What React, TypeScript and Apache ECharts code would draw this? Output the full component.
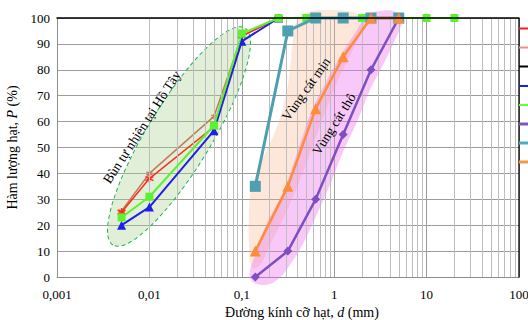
import React, { useEffect, useRef } from "react";
import * as echarts from "echarts";

// ---- data ----
const xTickValues = [0.001, 0.01, 0.1, 1, 10, 100];
const xTickLabels = ["0,001", "0,01", "0,1", "1", "10", "100"];

const mudD = [0.005, 0.01, 0.05, 0.1, 0.25];
const redP = [25, 38, 58, 93, 100];
const brownP = [25.5, 40, 62, 93, 100];
const blueP = [20, 27, 56.5, 91, 100];

const greenD = [0.005, 0.01, 0.05, 0.1, 0.25, 0.5, 2, 10, 20];
const greenP = [23, 31, 58.5, 94, 100, 100, 100, 100, 100];

const sandD = [0.14, 0.315, 0.63, 1.25, 2.5, 5];
const tealP = [35, 95, 100, 100, 100, 100];
const orangeP = [10, 35, 65, 85, 100, 100];
const purpleP = [0, 10, 30, 55, 80, 100];

const FONT = "'Liberation Serif', 'Times New Roman', serif";

// decorative zones (pixel outlines)
const peachOutline = [
  [252, 268], [249, 245], [249, 215], [251, 190], [262, 160], [275, 132], [285, 100], [290, 70], [293, 40], [297, 20],
  [308, 12], [330, 10], [352, 12], [364, 18],
  [360, 35], [345, 65], [330, 100], [315, 140], [300, 180], [285, 215], [270, 245], [260, 265],
];
const pinkOutline = [
  [250, 278], [255, 255], [266, 225], [284, 190], [298, 150], [312, 110], [327, 80], [341, 55], [357, 30], [366, 16],
  [380, 11], [396, 12],
  [402, 20], [396, 38], [383, 65], [370, 90], [357, 122], [343, 152], [330, 185], [318, 212], [305, 240], [292, 262], [277, 280], [262, 285],
];

const legendStubs = [
  { y: 28.5, color: "#ff1a1a", w: 2 },
  { y: 47.5, color: "#e8908c", w: 2 },
  { y: 66.5, color: "#000000", w: 2 },
  { y: 86, color: "#1a1aff", w: 2 },
  { y: 105, color: "#66ff33", w: 2 },
  { y: 124, color: "#7f55b5", w: 3 },
  { y: 143, color: "#4bacc6", w: 3 },
  { y: 162, color: "#f79646", w: 3 },
];

const minorValues: number[] = [];
[0.001, 0.01, 0.1, 1, 10].forEach((dec) => {
  for (let k = 2; k <= 9; k++) minorValues.push(k * dec);
});

const asterisk = "path://M5,0L5,10M0.67,2.5L9.33,7.5M0.67,7.5L9.33,2.5";

function lineSeries(name: string, d: number[], p: number[], color: string, width: number, symbol: string, size: number, z: number, extra: any = {}) {
  return {
    name,
    type: "line",
    data: d.map((x, i) => [x, p[i]]),
    symbol,
    symbolSize: size,
    lineStyle: { color, width },
    itemStyle: { color, ...(extra.itemStyle || {}) },
    z,
    clip: false,
  };
}

export default function App() {
  const ref = useRef<HTMLDivElement>(null);
  useEffect(() => {
    if (!ref.current) return;
    const chart = echarts.init(ref.current, undefined, { renderer: "svg" });
    const deg = Math.PI / 180;
    const option: any = {
      animation: false,
      backgroundColor: "#ffffff",
      grid: { left: 57, right: 9, top: 18, bottom: 43, containLabel: false, outerBoundsMode: "none" },
      xAxis: {
        type: "log",
        logBase: 10,
        min: 0.001,
        max: 100,
        axisLine: { show: true, onZero: false, lineStyle: { color: "#8c8c8c", width: 1 } },
        axisTick: { show: false },
        axisLabel: {
          color: "#000",
          fontFamily: FONT,
          fontSize: 13,
          margin: 11,
          formatter: (v: number) => {
            let best = 0;
            xTickValues.forEach((t, i) => {
              if (Math.abs(Math.log10(t) - Math.log10(v)) < Math.abs(Math.log10(xTickValues[best]) - Math.log10(v))) best = i;
            });
            return xTickLabels[best];
          },
        },
        splitLine: { show: true, lineStyle: { color: "#9c9c9c", width: 1 } },
        name: "Đường kính cỡ hạt, {i|d} (mm)",
        nameLocation: "middle",
        nameGap: 25,
        nameTextStyle: {
          color: "#000",
          fontFamily: FONT,
          fontSize: 14,
          padding: [0, 0, 0, 28],
          rich: { i: { fontStyle: "italic", fontFamily: FONT, fontSize: 14, color: "#000" } },
        },
      },
      yAxis: {
        type: "value",
        min: 0,
        max: 100,
        interval: 10,
        axisLine: { show: true, lineStyle: { color: "#8c8c8c", width: 1 } },
        axisTick: { show: false },
        axisLabel: { color: "#000", fontFamily: FONT, fontSize: 13, margin: 7 },
        splitLine: { show: true, lineStyle: { color: "#9c9c9c", width: 1 } },
        name: "Hàm lượng hạt, {i|P} (%)",
        nameLocation: "middle",
        nameGap: 35,
        nameTextStyle: {
          color: "#000",
          fontFamily: FONT,
          fontSize: 14,
          rich: { i: { fontStyle: "italic", fontFamily: FONT, fontSize: 14, color: "#000" } },
        },
      },
      series: [
        {
          name: "minor",
          type: "line",
          data: [[0.001, 0]],
          showSymbol: false,
          lineStyle: { width: 0, opacity: 0 },
          silent: true,
          z: 0,
          markLine: {
            silent: true,
            symbol: "none",
            label: { show: false },
            lineStyle: { color: "#bdbdbd", width: 1, type: "solid" },
            data: minorValues.map((v) => ({ xAxis: v })),
          },
        },
        lineSeries("s2", mudD, brownP, "#c27a5e", 1.5, asterisk, 6, 3, { itemStyle: { borderColor: "#c27a5e", borderWidth: 1.2 } }),
        lineSeries("s1", mudD, redP, "#ff2a1a", 1.5, asterisk, 8, 4, { itemStyle: { borderColor: "#ff2a1a", borderWidth: 1.5 } }),
        lineSeries("s4", mudD, blueP, "#1f1fe6", 2, "triangle", 9, 5),
        lineSeries("s5", greenD, greenP, "#5df22e", 2, "rect", 8, 6),
        lineSeries("s6", sandD, purpleP, "#7e4fc0", 2.5, "diamond", 9, 7),
        lineSeries("s7", sandD, tealP, "#4e9fb0", 3, "rect", 11, 8),
        lineSeries("s8", sandD, orangeP, "#ff8c3a", 2.5, "triangle", 11, 9),
      ],
      graphic: [
        {
          type: "ellipse",
          x: 179,
          y: 136.5,
          rotation: 58.7 * deg,
          shape: { cx: 0, cy: 0, rx: 127, ry: 32 },
          style: { fill: "rgba(169,209,142,0.35)", stroke: "#1fb35a", lineWidth: 1, lineDash: [4, 3] },
          z: 1,
          silent: true,
        },
        {
          type: "polygon",
          shape: { points: peachOutline, smooth: 0.4 },
          style: { fill: "rgba(244,176,132,0.3)" },
          z: 1,
          silent: true,
        },
        {
          type: "polygon",
          shape: { points: pinkOutline, smooth: 0.4 },
          style: { fill: "rgba(238,120,238,0.4)" },
          z: 1,
          silent: true,
        },
        {
          type: "text",
          x: 142,
          y: 127,
          rotation: 57 * deg,
          style: { text: "Bùn tự nhiên tại Hồ Tây", font: `13.5px ${FONT}`, fill: "#000", align: "center", verticalAlign: "middle" },
          z: 20,
        },
        {
          type: "text",
          x: 306,
          y: 89,
          rotation: 55 * deg,
          style: { text: "Vùng cát mịn", font: `13.5px ${FONT}`, fill: "#000", align: "center", verticalAlign: "middle" },
          z: 20,
        },
        {
          type: "text",
          x: 334,
          y: 124,
          rotation: 58 * deg,
          style: { text: "Vùng cát thô", font: `13.5px ${FONT}`, fill: "#000", align: "center", verticalAlign: "middle" },
          z: 20,
        },
        { type: "line", shape: { x1: 56.5, y1: 18, x2: 519.5, y2: 18 }, style: { stroke: "#000", lineWidth: 1.3 }, z: 30 },
        { type: "line", shape: { x1: 519, y1: 18, x2: 519, y2: 277.5 }, style: { stroke: "#000", lineWidth: 1.3 }, z: 30 },
        ...legendStubs.map((s) => ({
          type: "line",
          shape: { x1: 519, y1: s.y, x2: 528, y2: s.y },
          style: { stroke: s.color, lineWidth: s.w },
          z: 30,
        })),
      ],
    };
    chart.setOption(option);
    return () => chart.dispose();
  }, []);
  return <div ref={ref} style={{ position: "absolute", left: 0, top: 0, width: 528, height: 320 }} />;
}
